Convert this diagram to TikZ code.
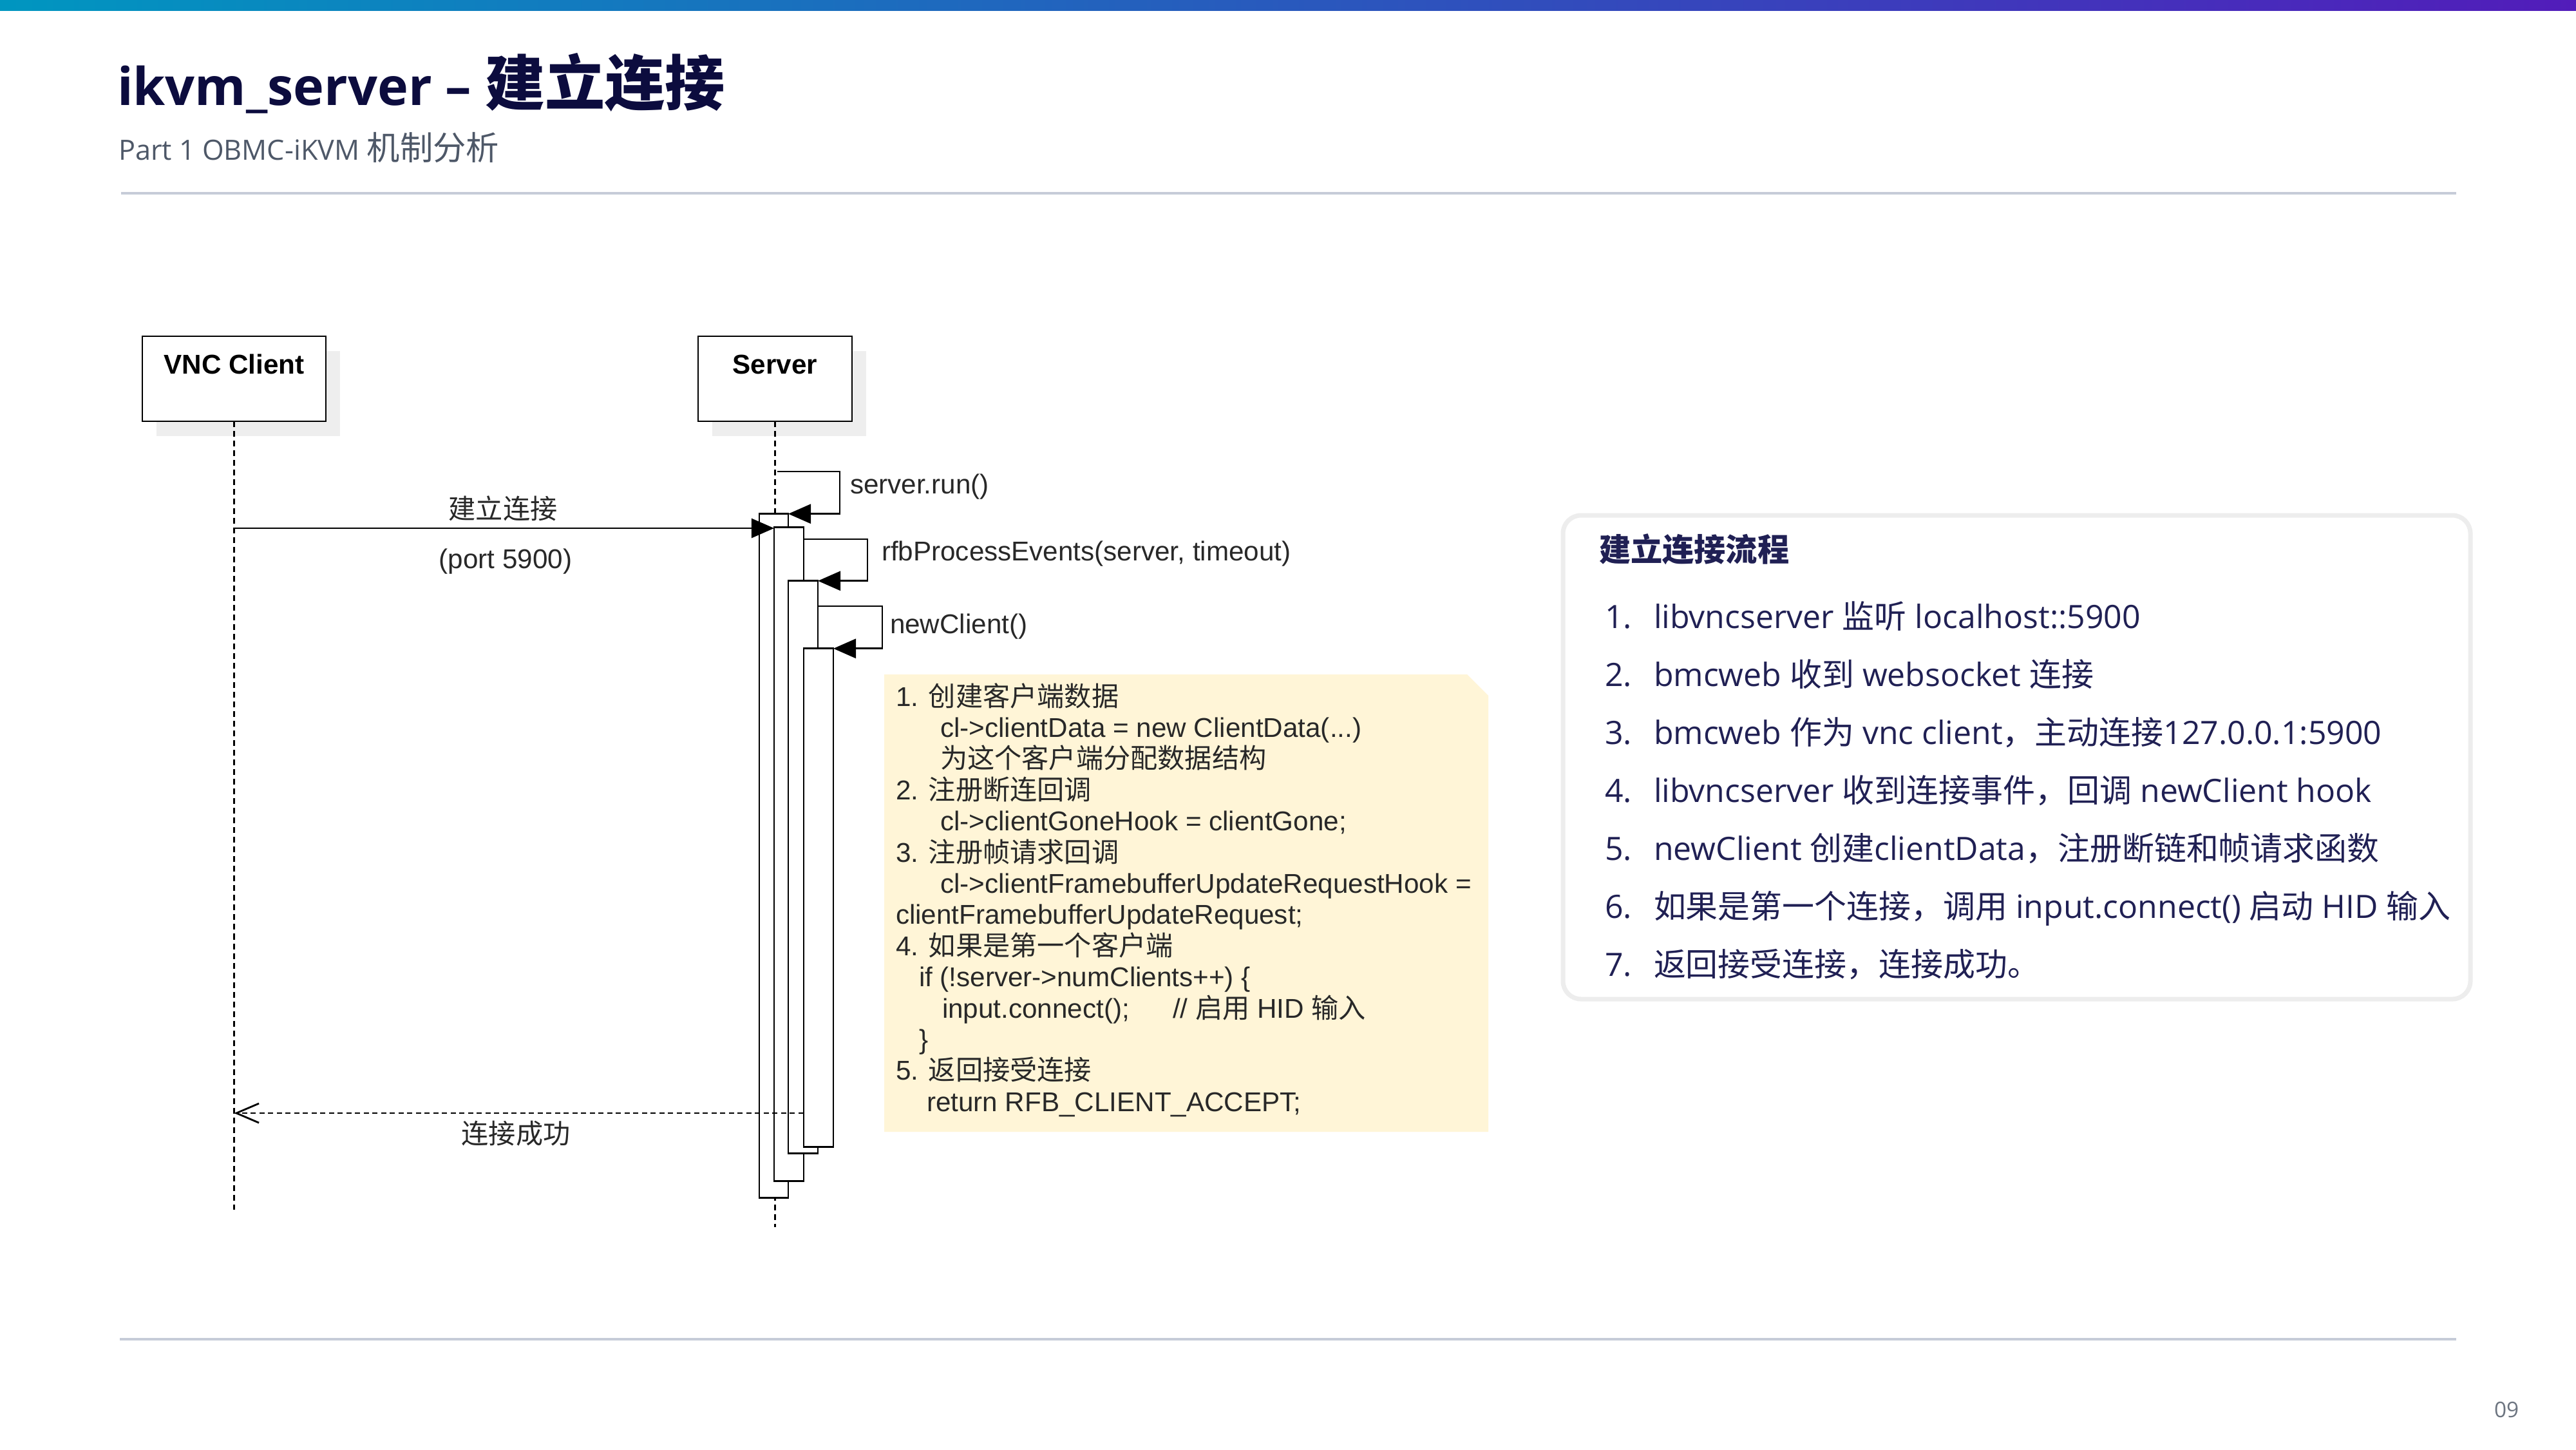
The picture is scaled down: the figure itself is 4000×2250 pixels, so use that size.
\documentclass[tikz,border=0pt]{standalone}
\usepackage{fontspec}
\setmainfont{Liberation Sans}
\newfontfamily\cjk{Noto Sans CJK SC}
\newfontfamily\osans{Open Sans}
\usetikzlibrary{arrows.meta}
\definecolor{navy}{RGB}{12,12,62}
\definecolor{ink}{RGB}{32,32,84}
\definecolor{subgray}{RGB}{78,88,104}
\definecolor{rulegray}{RGB}{198,204,216}
\definecolor{notefill}{RGB}{255,245,215}
\definecolor{barL}{RGB}{0,150,192}
\definecolor{barR}{RGB}{82,28,186}
\definecolor{pgnum}{RGB}{108,116,128}
\definecolor{diagtext}{RGB}{40,40,40}
\definecolor{shadowgray}{RGB}{238,238,238}
\newcommand\zh[1]{{\cjk #1}}
\begin{document}
\begin{tikzpicture}[x=0.01cm,y=-0.01cm,
  every node/.style={inner sep=0pt, outer sep=0pt},
  dtxt/.style={font=\fontsize{12}{14}\selectfont, text=diagtext},
  ntxt/.style={dtxt, anchor=base west},
  ptxt/.style={anchor=base west, text=ink, font=\osans\fontsize{14.2}{16}\selectfont},
  lifeline/.style={line width=0.75pt, dash pattern=on 0.09cm off 0.06cm},
  actor/.style={draw, line width=0.8pt, fill=white},
  actbar/.style={draw, line width=0.8pt, fill=white},
  call/.style={line width=0.8pt, -{Triangle[length=0.35cm,width=0.3cm]}},
  reply/.style={line width=0.8pt, dash pattern=on 0.08cm off 0.055cm, -{Straight Barb[length=0.35cm,width=0.3cm]}}
]
\useasboundingbox (0,0) rectangle (4000,2250);
\fill[white] (0,0) rectangle (4000,2250);
% top bar
\shade[left color=barL, right color=barR] (0,0) rectangle (4000,16);
% title
\node[anchor=base west, text=navy] (title) at (182,163)
  {\osans\bfseries\fontsize{23}{26}\selectfont ikvm\_server – {\cjk\bfseries\fontsize{26.5}{30}\selectfont 建立连接}};
\node[anchor=base west, text=subgray] (subtitle) at (184,248)
  {\osans\fontsize{12.3}{14}\selectfont Part 1 OBMC-iKVM {\cjk\fontsize{14.6}{16}\selectfont 机制分析}};
\draw[rulegray, line width=1.1pt] (188,300) -- (3814,300);
\draw[rulegray, line width=1.1pt] (186,2079) -- (3814,2079);
\node[anchor=base west, text=pgnum] (pg) at (3873,2200) {\osans\fontsize{9.5}{11}\selectfont 09};

% actors
\fill[shadowgray] (243,545) rectangle (528,677);
\fill[shadowgray] (1106,545) rectangle (1345,677);
\node[actor, minimum width=2.85cm, minimum height=1.32cm] (vnc) at (363.5,588) {};
\node[actor, minimum width=2.39cm, minimum height=1.32cm] (srv) at (1203.5,588) {};
\node[dtxt, anchor=base, font=\bfseries\fontsize{12}{14}\selectfont, text=black] (vnct) at (363.5,580) {VNC Client};
\node[dtxt, anchor=base, font=\bfseries\fontsize{12}{14}\selectfont, text=black] (srvt) at (1203.5,580) {Server};

% lifelines
\coordinate (vncend) at (363.5,1878);
\coordinate (srvend) at (1203.5,1905);
\draw[lifeline] (vnc.south) -- (vncend);
\draw[lifeline] (srv.south) -- (srvend);

% activation bars
\node[actbar, minimum width=0.45cm, minimum height=10.61cm] (b1) at (1201.5,1328.5) {};
\node[actbar, minimum width=0.46cm, minimum height=10.14cm] (b2) at (1225,1326) {};
\node[actbar, minimum width=0.46cm, minimum height=8.88cm] (b3) at (1247,1346) {};
\node[actbar, minimum width=0.46cm, minimum height=7.73cm] (b4) at (1271,1393.5) {};

% note
\fill[notefill] (1373,1047) -- (2278,1047) -- (2311,1080) -- (2311,1757) -- (1373,1757) -- cycle;

% messages
\coordinate (runs) at (1207,732);
\draw[call] (runs) -- ++(97,0) |- (b1.north east);
\draw[call] (vnc.south |- 0,820) -- (b2.west |- 0,820);
\draw[call] (b2.east |- 0,837) -- ++(99,0) |- (b3.north east);
\draw[call] (b3.east |- 0,941) -- ++(100,0) |- (b4.north east);
\draw[reply] (b4.west |- 0,1728) -- (vnc.south |- 0,1728);

% message labels
\node[dtxt] (m1a) at (781,789) {\zh{建立连接}};
\node[dtxt] (m1b) at (785,872) {(port 5900)};
\node[dtxt] (m5) at (801,1760) {\zh{连接成功}};
\node[dtxt, anchor=west] (m2) at (1320,756) {server.run()};
\node[dtxt, anchor=west] (m3) at (1369,860) {rfbProcessEvents(server, timeout)};
\node[dtxt, anchor=west] (m4) at (1382,973) {newClient()};

% note text
\node[ntxt] (n1) at (1391,1096) {1. \zh{创建客户端数据}};
\node[ntxt] (n2) at (1460,1144.4) {cl->clientData = new ClientData(...)};
\node[ntxt] (n3) at (1460,1192.8) {\zh{为这个客户端分配数据结构}};
\node[ntxt] (n4) at (1391,1241.2) {2. \zh{注册断连回调}};
\node[ntxt] (n5) at (1460,1289.6) {cl->clientGoneHook = clientGone;};
\node[ntxt] (n6) at (1391,1338) {3. \zh{注册帧请求回调}};
\node[ntxt] (n7) at (1460,1386.4) {cl->clientFramebufferUpdateRequestHook =};
\node[ntxt] (n8) at (1391,1434.8) {clientFramebufferUpdateRequest;};
\node[ntxt] (n9) at (1391,1483.2) {4. \zh{如果是第一个客户端}};
\node[ntxt] (n10) at (1427,1531.6) {if (!server->numClients++) \{};
\node[ntxt] (n11) at (1463,1580) {input.connect();};
\node[ntxt] (n11b) at (1821,1580) {// \zh{启用} HID \zh{输入}};
\node[ntxt] (n12) at (1427,1628.4) {\}};
\node[ntxt] (n13) at (1391,1676.8) {5. \zh{返回接受连接}};
\node[ntxt] (n14) at (1439,1725.2) {return RFB\_CLIENT\_ACCEPT;};

% right panel
\draw[draw=black!7, line width=2pt, fill=white, rounded corners=0.28cm] (2427,800) rectangle (3836,1551);
\node[anchor=base west, text=ink] (ph) at (2483,871) {\cjk\bfseries\fontsize{14}{16}\selectfont 建立连接流程};
\node[ptxt] (p1n) at (2492,975) {1.};
\node[ptxt] (p1) at (2568,975) {libvncserver \zh{监听} localhost::5900};
\node[ptxt] (p2n) at (2492,1065) {2.};
\node[ptxt] (p2) at (2568,1065) {bmcweb \zh{收到} websocket \zh{连接}};
\node[ptxt] (p3n) at (2492,1155) {3.};
\node[ptxt] (p3) at (2568,1155) {bmcweb \zh{作为} vnc client\zh{，主动连接}127.0.0.1:5900};
\node[ptxt] (p4n) at (2492,1245) {4.};
\node[ptxt] (p4) at (2568,1245) {libvncserver \zh{收到连接事件，回调} newClient hook};
\node[ptxt] (p5n) at (2492,1335) {5.};
\node[ptxt] (p5) at (2568,1335) {newClient \zh{创建}clientData\zh{，注册断链和帧请求函数}};
\node[ptxt] (p6n) at (2492,1425) {6.};
\node[ptxt] (p6) at (2568,1425) {\zh{如果是第一个连接，调用} input.connect() \zh{启动} HID \zh{输入}};
\node[ptxt] (p7n) at (2492,1515) {7.};
\node[ptxt] (p7) at (2568,1515) {\zh{返回接受连接，连接成功。}};
\end{tikzpicture}
\end{document}
